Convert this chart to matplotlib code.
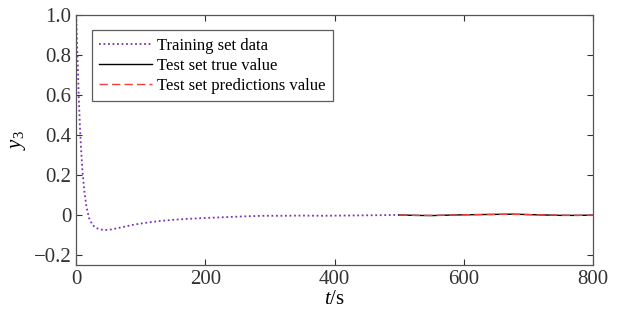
import matplotlib

matplotlib.use("Agg")
import matplotlib.pyplot as plt

plt.rcParams["font.family"] = ["Liberation Serif", "DejaVu Serif"]
plt.rcParams["mathtext.fontset"] = "custom"
plt.rcParams["mathtext.it"] = "Liberation Serif:italic"
plt.rcParams["mathtext.rm"] = "Liberation Serif"

# training segment (0-500 s)
train_t = [0, 2, 4, 6, 8, 10, 13, 16, 20, 25, 30, 38, 45, 55, 70, 90, 110, 130,
           150, 175, 200, 230, 260, 290, 320, 350, 380, 410, 440, 470, 500]
train_y = [1.0, 0.8, 0.6, 0.43, 0.31, 0.21, 0.11, 0.04, -0.015, -0.048, -0.064,
           -0.073, -0.075, -0.072, -0.062, -0.048, -0.038, -0.03, -0.024, -0.019,
           -0.015, -0.011, -0.007, -0.004, -0.004, -0.003, -0.004, -0.003, -0.002,
           -0.001, 0.0]

# test segment (500-800 s)
test_t = [500, 525, 550, 575, 600, 625, 650, 675, 700, 725, 750, 775, 800]
test_true = [0.0, -0.002, -0.003, -0.001, 0.001, 0.002, 0.003, 0.004, 0.002,
             0.0, -0.002, -0.002, -0.001]
test_pred = [0.0, -0.002, -0.002, -0.001, 0.001, 0.002, 0.003, 0.003, 0.002,
             0.0, -0.001, -0.002, -0.001]

fig = plt.figure(figsize=(6.19, 3.2), dpi=100)
ax = fig.add_axes([0.123, 0.172, 0.835, 0.781])

ax.plot(train_t, train_y, linestyle=(0, (1, 1.5)), color="#7b35b0", lw=1.3,
        label="Training set data")
ax.plot(test_t, test_true, color="black", lw=1.0, label="Test set true value")
ax.plot(test_t, test_pred, linestyle=(0, (6, 3)), color="#f04040", lw=1.0,
        label="Test set predictions value")

ax.set_xlim(0, 800)
ax.set_ylim(-0.25, 1.0)
ax.set_xticks([0, 200, 400, 600, 800])
ax.set_yticks([-0.2, 0, 0.2, 0.4, 0.6, 0.8, 1.0])
ax.set_yticklabels(["\u22120.2", "0", "0.2", "0.4", "0.6", "0.8", "1.0"])
ax.tick_params(direction="in", top=True, right=True, labelsize=15, length=4,
               colors="#333333")
for s in ax.spines.values():
    s.set_color("#555555")
    s.set_linewidth(0.9)

ax.set_xlabel("$t$/s", fontsize=15, labelpad=1)
ax.set_ylabel("$y_3$", fontsize=15, labelpad=4)

leg = ax.legend(loc="upper left", bbox_to_anchor=(0.03, 0.94), borderaxespad=0,
                fontsize=12, frameon=True, fancybox=False, handlelength=3.2,
                borderpad=0.45, labelspacing=0.25, handletextpad=0.3)
leg.get_frame().set_edgecolor("#333333")
leg.get_frame().set_linewidth(0.9)

fig.savefig("out.png", dpi=100)
